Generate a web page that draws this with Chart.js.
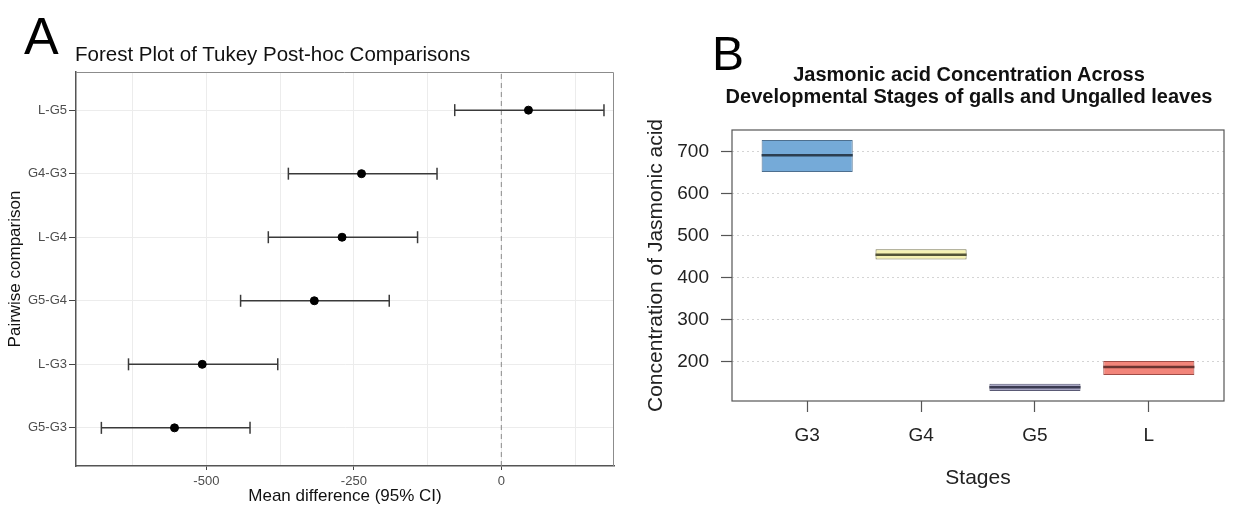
<!DOCTYPE html>
<html>
<head>
<meta charset="utf-8">
<script src="https://cdn.jsdelivr.net/npm/chart.js@4.4.1/dist/chart.umd.min.js"></script>
<style>
  body { margin: 0; background: #fff; font-family: "Liberation Sans", Arial, sans-serif; }
  #wrap { position: relative; width: 1253px; height: 508px; overflow: hidden; }
  .panel { position: absolute; top: 0; height: 508px; }
  #panelA { left: 0; width: 625px; }
  #panelB { left: 620px; width: 633px; }
  .letter { position: absolute; font-size: 52px; line-height: 52px; color: #000; }
  #titleA { position: absolute; left: 75px; top: 44px; font-size: 20.5px; line-height: 20px; color: #111; white-space: nowrap; }
  #titleB { position: absolute; left: 669px; top: 63px; width: 600px; text-align: center; font-size: 20px; line-height: 22px; font-weight: bold; color: #111; }
</style>
</head>
<body>
<div id="wrap">
  <div class="panel" id="panelA"><canvas id="chartA"></canvas></div>
  <div class="panel" id="panelB"><canvas id="chartB"></canvas></div>
  <div class="letter" style="left:24px; top:10px;">A</div>
  <div class="letter" style="left:712px; top:28px; font-size:48px;">B</div>
  <div id="titleA">Forest Plot of Tukey Post-hoc Comparisons</div>
  <div id="titleB">Jasmonic acid Concentration Across<br>Developmental Stages of galls and Ungalled leaves</div>
</div>
<script>
// ---- panel A : Tukey comparisons (top to bottom)
const comparisons = ['L-G5', 'G4-G3', 'L-G4', 'G5-G4', 'L-G3', 'G5-G3'];
const meanDiff = [46, -237, -270, -317, -507, -554];
const ciLower = [-79, -361, -395, -442, -632, -678];
const ciUpper = [174, -109, -142, -190, -379, -426];
const diffTicks = [-625, -500, -375, -250, -125, 0, 125];

// ---- panel B : concentration per stage
const stages = ['G3', 'G4', 'G5', 'L'];
const q1 = [652, 444, 131, 169];
const median = [692, 455, 140, 188];
const q3 = [728, 468, 148, 202];
const concTicks = [200, 300, 400, 500, 600, 700];

const fillColors = ['#75aad8', '#f6f2b3', '#a9a7c4', '#f2857a'];
const edgeColors = ['#4d6f8f', '#7d7b55', '#5a5a75', '#a04c46'];
const medianColors = ['#2c3e50', '#545437', '#3b3b52', '#6b3430'];

const FONT = '"Liberation Sans", Arial, sans-serif';
const nRows = comparisons.length;

// y position of each comparison: first one at the top
const rowPos = i => nRows - i;

const ciSets = comparisons.map((c, i) => ({
    type: 'line',
    label: c,
    data: [{x: ciLower[i], y: rowPos(i)}, {x: ciUpper[i], y: rowPos(i)}],
    borderColor: '#3a3a3a',
    borderWidth: 1.5,
    pointStyle: 'line',
    rotation: 90,
    pointRadius: 6,
    pointBorderWidth: 1.5,
    pointBorderColor: '#3a3a3a',
    order: 1
}));

const frameA = {
    id: 'frameA',
    afterDatasetsDraw(chart) {
        const a = chart.chartArea, c = chart.ctx;
        c.save();
        c.strokeStyle = '#8c8c8c';
        c.lineWidth = 1;
        c.beginPath();
        c.moveTo(a.left, a.top + 0.5);
        c.lineTo(a.right - 0.5, a.top + 0.5);
        c.lineTo(a.right - 0.5, a.bottom);
        c.stroke();
        c.restore();
    }
};

new Chart(document.getElementById('chartA'), {
    type: 'scatter',
    data: {
        datasets: [
            {
                label: 'mean',
                data: meanDiff.map((m, i) => ({x: m, y: rowPos(i)})),
                backgroundColor: '#000',
                borderColor: '#000',
                pointRadius: 4,
                order: 0
            },
            ...ciSets,
            {
                type: 'line',
                label: 'zero',
                data: [{x: 0, y: 0.4}, {x: 0, y: nRows + 0.6}],
                borderColor: '#8a8a8a',
                borderWidth: 1,
                borderDash: [5, 4],
                pointRadius: 0,
                order: 2
            }
        ]
    },
    options: {
        responsive: true,
        maintainAspectRatio: false,
        animation: false,
        layout: {padding: {top: 72, right: 11, left: 0, bottom: 0}},
        plugins: {legend: {display: false}, tooltip: {enabled: false}},
        scales: {
            x: {
                type: 'linear',
                min: -721,
                max: 191,
                afterBuildTicks: ax => { ax.ticks = diffTicks.map(v => ({value: v})); },
                afterFit: ax => { ax.height = 42; },
                ticks: {
                    autoSkip: false,
                    maxRotation: 0,
                    padding: 4,
                    color: '#4d4d4d',
                    font: {family: FONT, size: 13},
                    callback: v => (v % 250 === 0 ? String(v) : '')
                },
                grid: {
                    color: '#ececec',
                    tickLength: 4,
                    tickColor: ctx => (ctx.tick && ctx.tick.value % 250 === 0 ? '#444' : 'rgba(0,0,0,0)')
                },
                border: {color: '#555', width: 1.5},
                title: {
                    display: true,
                    text: 'Mean difference (95% CI)',
                    color: '#111',
                    font: {family: FONT, size: 17},
                    padding: {top: 0, bottom: 1}
                }
            },
            y: {
                type: 'linear',
                min: 0.4,
                max: nRows + 0.6,
                afterBuildTicks: ax => { ax.ticks = comparisons.map((c, i) => ({value: rowPos(i)})); },
                afterFit: ax => { ax.width = 76; },
                ticks: {
                    autoSkip: false,
                    padding: 2,
                    color: '#4d4d4d',
                    font: {family: FONT, size: 13},
                    callback: v => comparisons[nRows - v]
                },
                grid: {color: '#ececec', tickLength: 7, tickColor: '#444'},
                border: {color: '#555', width: 1.5},
                title: {
                    display: true,
                    text: 'Pairwise comparison',
                    color: '#111',
                    font: {family: FONT, size: 17},
                    padding: {top: 5, bottom: 0}
                }
            }
        }
    },
    plugins: [frameA]
});

// box edges come from the bars, medians drawn on top through the scales
const medianLines = {
    id: 'medianLines',
    afterDatasetsDraw(chart) {
        const c = chart.ctx, ys = chart.scales.y;
        const bars = chart.getDatasetMeta(0).data;
        c.save();
        bars.forEach((b, i) => {
            const y = ys.getPixelForValue(median[i]);
            c.strokeStyle = medianColors[i];
            c.lineWidth = 2.5;
            c.beginPath();
            c.moveTo(b.x - b.width / 2, y);
            c.lineTo(b.x + b.width / 2, y);
            c.stroke();
        });
        const a = chart.chartArea;
        c.strokeStyle = '#555';
        c.lineWidth = 1.2;
        c.strokeRect(a.left, a.top, a.right - a.left, a.bottom - a.top);
        c.restore();
    }
};

new Chart(document.getElementById('chartB'), {
    type: 'bar',
    data: {
        datasets: [{
            label: 'Concentration',
            data: stages.map((s, i) => ({x: i + 1, y: [q1[i], q3[i]]})),
            backgroundColor: fillColors,
            borderColor: edgeColors,
            borderWidth: 1,
            borderSkipped: false,
            categoryPercentage: 0.8,
            barPercentage: 1.0
        }]
    },
    options: {
        responsive: true,
        maintainAspectRatio: false,
        animation: false,
        layout: {padding: {top: 130, right: 29, left: 0, bottom: 0}},
        plugins: {legend: {display: false}, tooltip: {enabled: false}},
        scales: {
            x: {
                type: 'linear',
                offset: false,
                min: 0.34,
                max: stages.length + 0.66,
                afterBuildTicks: ax => { ax.ticks = stages.map((s, i) => ({value: i + 1})); },
                afterFit: ax => { ax.height = 107; },
                ticks: {
                    autoSkip: false,
                    maxRotation: 0,
                    padding: 12,
                    color: '#222',
                    font: {family: FONT, size: 19},
                    callback: v => stages[v - 1]
                },
                grid: {offset: false, drawOnChartArea: false, tickLength: 11, tickColor: '#555', tickWidth: 1.2},
                border: {display: false},
                title: {
                    display: true,
                    text: 'Stages',
                    color: '#222',
                    font: {family: FONT, size: 21},
                    padding: {top: 0, bottom: 17}
                }
            },
            y: {
                min: 107,
                max: 752,
                afterBuildTicks: ax => { ax.ticks = concTicks.map(v => ({value: v})); },
                afterFit: ax => { ax.width = 112; },
                ticks: {
                    autoSkip: false,
                    padding: 12,
                    color: '#222',
                    font: {family: FONT, size: 19}
                },
                grid: {color: '#d4d4d4', tickLength: 11, tickColor: '#555', tickWidth: 1.2, tickBorderDash: []},
                border: {display: false, dash: [2, 3]},
                title: {
                    display: true,
                    text: 'Concentration of Jasmonic acid',
                    color: '#222',
                    font: {family: FONT, size: 21},
                    padding: {top: 24, bottom: 0}
                }
            }
        }
    },
    plugins: [medianLines]
});
</script>
</body>
</html>
